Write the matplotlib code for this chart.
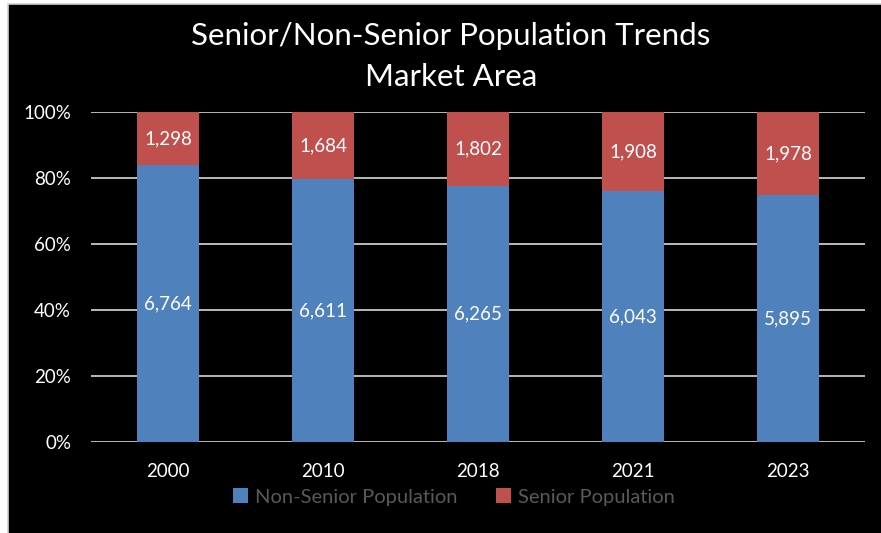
import matplotlib
matplotlib.use("Agg")
import matplotlib.pyplot as plt
from matplotlib.patches import Rectangle
import numpy as np

years = ["2000", "2010", "2018", "2021", "2023"]
non_senior = [6764, 6611, 6265, 6043, 5895]
senior = [1298, 1684, 1802, 1908, 1978]

BLUE = "#4F81BD"
RED = "#C0504D"

plt.rcParams["font.family"] = ["Lato", "DejaVu Sans"]

W, H = 881, 533
fig = plt.figure(figsize=(W / 100, H / 100), dpi=100, facecolor="white")
# black chart area with thin grey frame
fig.patches.append(Rectangle((8 / W, -0.05), 1.0, 1.05 - 4 / H, transform=fig.transFigure,
                             facecolor="black", edgecolor="#d0d0d0", linewidth=1.2, zorder=-1))

ax = fig.add_axes([90.5 / W, 1 - 442 / H, 775 / W, 330 / H])
ax.set_zorder(2)
ax.set_facecolor("black")

ns = np.array(non_senior, dtype=float)
sr = np.array(senior, dtype=float)
tot = ns + sr
ns_pct = ns / tot * 100
sr_pct = sr / tot * 100
x = np.arange(len(years))

ax.bar(x, ns_pct, width=0.405, color=BLUE, label="Non-Senior Population", zorder=3)
ax.bar(x, sr_pct, bottom=ns_pct, width=0.405, color=RED, label="Senior Population", zorder=3)

for i in range(len(years)):
    ax.text(x[i], ns_pct[i] / 2, f"{non_senior[i]:,}", color="white", ha="center", va="center",
            fontsize=13.5, zorder=4)
    ax.text(x[i], ns_pct[i] + sr_pct[i] / 2, f"{senior[i]:,}", color="white", ha="center",
            va="center", fontsize=13.5, zorder=4)

ax.set_xlim(-0.5, len(years) - 0.5)
ax.set_ylim(0, 100)
ax.set_yticks(np.arange(0, 101, 20))
ax.set_yticklabels([f"{v}%" for v in range(0, 101, 20)])
ax.set_xticks(x)
ax.set_xticklabels(years)
ax.tick_params(axis="both", length=0, colors="white", labelsize=13.5)
ax.tick_params(axis="y", pad=14)
ax.tick_params(axis="x", pad=15)
ax.grid(axis="y", color="#d9d9d9", linewidth=1.2, zorder=1)
for s in ax.spines.values():
    s.set_visible(False)

fig.text(451 / W, 1 - 36 / H, "Senior/Non-Senior Population Trends",
         ha="center", va="center", color="white", fontsize=22.5)
fig.text(451 / W, 1 - 77 / H, "Market Area",
         ha="center", va="center", color="white", fontsize=22.5)

leg = fig.legend(loc="center", bbox_to_anchor=(454 / W, 1 - 497 / H), ncol=2, frameon=False,
                 fontsize=14.5, handlelength=0.75, handleheight=0.75, handletextpad=0.35,
                 columnspacing=1.9)
for t in leg.get_texts():
    t.set_color("#595959")

fig.savefig("out.png", dpi=100, facecolor="white")
